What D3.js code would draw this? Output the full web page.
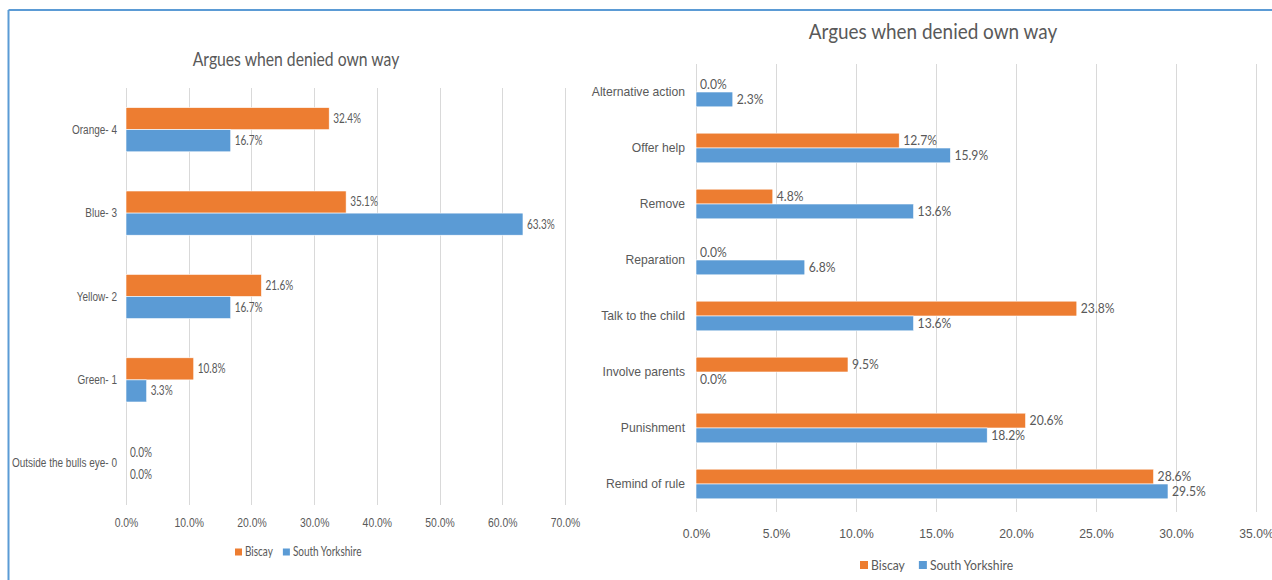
<!DOCTYPE html>
<html><head><meta charset="utf-8">
<script src="https://cdn.jsdelivr.net/npm/d3@7"></script>
<style>
html,body{margin:0;padding:0;background:#fff;}
svg{display:block;font-family:Lato,"Liberation Sans",sans-serif;}
</style></head>
<body>
<svg id="c" width="1272" height="580"></svg>
<script>
// ---------- data ----------
const seriesNames = ["Biscay", "South Yorkshire"];
const seriesColors = ["#ed7d31", "#5b9bd5"];

const leftTitle = "Argues when denied own way";
const leftCategories = ["Orange- 4", "Blue- 3", "Yellow- 2", "Green- 1", "Outside the bulls eye- 0"];
const leftBiscay = [32.4, 35.1, 21.6, 10.8, 0.0];
const leftSouthYorkshire = [16.7, 63.3, 16.7, 3.3, 0.0];
const leftTicks = [0, 10, 20, 30, 40, 50, 60, 70];

const rightTitle = "Argues when denied own way";
const rightCategories = ["Alternative action", "Offer help", "Remove", "Reparation", "Talk to the child", "Involve parents", "Punishment", "Remind of rule"];
const rightBiscay = [0.0, 12.7, 4.8, 0.0, 23.8, 9.5, 20.6, 28.6];
const rightSouthYorkshire = [2.3, 15.9, 13.6, 6.8, 13.6, 0.0, 18.2, 29.5];
const rightTicks = [0, 5, 10, 15, 20, 25, 30, 35];

// ---------- drawing ----------
const svg = d3.select("#c");
const textCol = "#595959";

// narrow the glyphs to imitate the condensed reference face
function condense(sel, f) {
  sel.each(function () {
    const w = this.getComputedTextLength();
    this.setAttribute("textLength", (w * f).toFixed(2));
    this.setAttribute("lengthAdjust", "spacingAndGlyphs");
    this.__w = w * f;
  });
}

// frame
svg.append("line").attr("x1", 8.5).attr("x2", 1272).attr("y1", 10).attr("y2", 10)
  .attr("stroke", "#5b9bd5").attr("stroke-width", 2);
svg.append("line").attr("x1", 8.5).attr("x2", 8.5).attr("y1", 10).attr("y2", 580)
  .attr("stroke", "#5b9bd5").attr("stroke-width", 2);

function drawChart(o) {
  const g = svg.append("g");
  const x = d3.scaleLinear().domain([0, o.max]).range([o.x0, o.x1]);
  const y = d3.scaleBand().domain(o.categories).range([o.y0, o.y1])
    .paddingInner(0.47).paddingOuter(0.235);
  const ys = d3.scaleBand().domain(seriesNames).range([0, y.bandwidth()]);

  // gridlines
  g.append("g").selectAll("line").data(o.ticks).join("line")
    .attr("x1", d => Math.round(x(d)) + 0.5).attr("x2", d => Math.round(x(d)) + 0.5)
    .attr("y1", o.y0).attr("y2", o.y1)
    .attr("stroke", "#d9d9d9").attr("stroke-width", 1);

  // x axis labels
  const ax = g.append("g").attr("transform", `translate(0,${o.tickY})`)
    .call(d3.axisBottom(x).tickValues(o.ticks).tickSize(0).tickFormat(d => d.toFixed(1) + "%"));
  ax.select(".domain").remove();
  ax.selectAll("text").attr("fill", textCol).attr("font-size", o.tickFont)
    .attr("font-family", null).attr("dy", "0.35em").attr("y", 0);
  condense(ax.selectAll("text"), o.cf);

  // y axis labels
  const ay = g.append("g").attr("transform", `translate(${o.x0},0)`)
    .call(d3.axisLeft(y).tickSize(0).tickPadding(o.catPad));
  ay.select(".domain").remove();
  ay.selectAll("text").attr("fill", textCol).attr("font-size", o.catFont).attr("font-family", null);
  condense(ay.selectAll("text"), o.cf);

  const rows = o.categories.map((c, i) => ({c, vals: [o.s1[i], o.s2[i]]}));
  const grp = g.append("g").selectAll("g").data(rows).join("g")
    .attr("transform", d => `translate(0,${y(d.c)})`);
  grp.selectAll("rect").data(d => d.vals.map((v, k) => ({v, k}))).join("rect")
    .attr("x", x(0)).attr("y", d => ys(seriesNames[d.k]))
    .attr("width", d => x(d.v) - x(0)).attr("height", ys.bandwidth())
    .attr("fill", d => seriesColors[d.k])
    .attr("stroke", "#fff").attr("stroke-width", d => d.v > 0 ? 0.6 : 0);
  const lbl = grp.selectAll("text").data(d => d.vals.map((v, k) => ({v, k}))).join("text")
    .attr("x", d => x(d.v) + 4).attr("y", d => ys(seriesNames[d.k]) + ys.bandwidth() / 2)
    .attr("dy", "0.35em").attr("fill", textCol).attr("font-size", o.lblFont)
    .text(d => d.v.toFixed(1) + "%");
  condense(lbl, o.cf);

  // title
  const tt = g.append("text").attr("x", o.titleX).attr("y", o.titleY).attr("text-anchor", "middle")
    .attr("fill", textCol).attr("font-size", o.titleFont).text(o.title);
  condense(tt, o.tf);

  // legend
  const lg = g.append("g").attr("transform", `translate(${o.legX},${o.legY})`);
  let cx = 0;
  seriesNames.forEach((s, k) => {
    lg.append("rect").attr("x", cx).attr("y", -o.legSq / 2).attr("width", o.legSq).attr("height", o.legSq)
      .attr("fill", seriesColors[k]);
    const t = lg.append("text").attr("x", cx + o.legSq + 3).attr("y", 0).attr("dy", "0.35em")
      .attr("fill", textCol).attr("font-size", o.legFont).text(s);
    condense(t, o.cf);
    cx += o.legSq + 3 + t.node().__w + o.legGap;
  });
}

drawChart({
  categories: leftCategories, s1: leftBiscay, s2: leftSouthYorkshire, ticks: leftTicks,
  max: 70, x0: 126, x1: 565, y0: 88, y1: 505, tickY: 522, cf: 0.8, tf: 0.85,
  tickFont: 13, catFont: 12.5, catPad: 9, lblFont: 12.5,
  title: leftTitle, titleX: 296, titleY: 66, titleFont: 18.5,
  legX: 235, legY: 552, legSq: 7, legFont: 12.5, legGap: 10
});

drawChart({
  categories: rightCategories, s1: rightBiscay, s2: rightSouthYorkshire, ticks: rightTicks,
  max: 35, x0: 696, x1: 1256, y0: 64, y1: 512, tickY: 533, cf: 0.9, tf: 0.88,
  tickFont: 13.5, catFont: 13.5, catPad: 11, lblFont: 13.5,
  title: rightTitle, titleX: 933, titleY: 39, titleFont: 21.5,
  legX: 860, legY: 565, legSq: 8, legFont: 13.5, legGap: 14
});
</script>
</body></html>
